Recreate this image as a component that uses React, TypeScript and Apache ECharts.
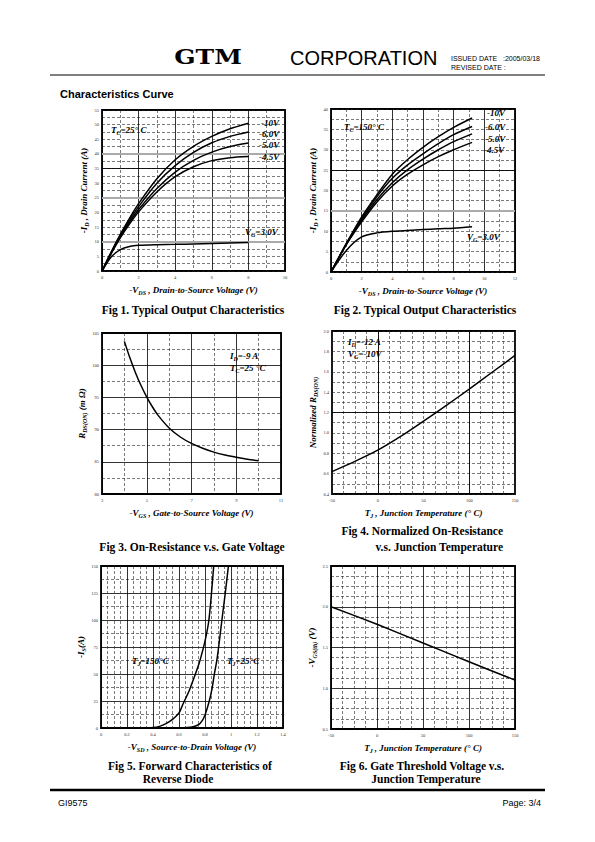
import React, { useEffect, useRef } from "react";
import * as echarts from "echarts";

const SERIF = "'Liberation Serif', 'Times New Roman', serif";
const SANS = "'Liberation Sans', Arial, sans-serif";

// ---------- Fig 1 : Typical output characteristics, Tc = 25 C ----------
const vds1 = [0, 0.5, 1, 1.5, 2, 3, 4, 5, 6, 7, 8];
const id1_10V = [0, 6.5, 12.5, 18, 23, 31.5, 38, 42.6, 46, 48.6, 50.5];
const id1_6V = [0, 6.3, 12.1, 17.3, 22, 30, 36, 40.5, 43.8, 46, 47.5];
const id1_5V = [0, 6.1, 11.7, 16.6, 21, 28.2, 33.8, 37.8, 40.6, 42.5, 43.7];
const id1_45V = [0, 5.9, 11.3, 16, 20.2, 27, 32.2, 35.6, 37.7, 38.7, 39.1];
const id1_3V = [0, 4.8, 7.3, 8.4, 8.8, 9.0, 9.1, 9.25, 9.4, 9.55, 9.7];

// ---------- Fig 2 : Typical output characteristics, Tc = 150 C ----------
const vds2 = [0, 1, 2, 3, 4, 5, 6, 7, 8, 9.2];
const id2_10V = [0, 7, 13.5, 19, 24, 27.6, 30.6, 33.2, 35.5, 37.8];
const id2_6V = [0, 6.9, 13.1, 18.5, 23, 26.3, 29, 31.5, 33.7, 35.7];
const id2_5V = [0, 6.8, 12.7, 17.8, 21.9, 25.1, 27.7, 30, 32, 33.9];
const id2_45V = [0, 6.7, 12.3, 17.2, 21.1, 24, 26.3, 28.3, 30, 31.8];
const id2_3V = [0, 5.3, 8.6, 9.6, 10, 10.2, 10.4, 10.6, 10.75, 11.1];

// ---------- Fig 3 : On-resistance vs gate voltage ----------
const vgs3 = [4, 4.25, 4.5, 4.75, 5, 5.25, 5.5, 6, 6.5, 7, 7.5, 8, 8.5, 9, 9.5, 10];
const rds3 = [103.7, 101.1, 98.8, 96.8, 95.05, 93.55, 92.25, 90.25, 88.85, 87.85, 87.1, 86.5, 86.05, 85.7, 85.4, 85.15];

// ---------- Fig 4 : Normalized on-resistance vs junction temperature ----------
const tj4 = [-50, -25, 0, 25, 50, 75, 100, 125, 150];
const rn4 = [0.62, 0.72, 0.83, 0.965, 1.115, 1.27, 1.43, 1.595, 1.76];

// ---------- Fig 5 : Forward characteristics of reverse diode ----------
const vsd5_150 = [0.3, 0.4, 0.45, 0.5, 0.55, 0.6, 0.63, 0.68, 0.72, 0.755, 0.785, 0.81, 0.83, 0.85, 0.867];
const is5_150 = [0, 0.5, 1.5, 4, 8, 14, 22, 35, 48, 60, 73, 86, 100, 125, 150];
const vsd5_25 = [0.6, 0.7, 0.75, 0.78, 0.8, 0.833, 0.855, 0.872, 0.89, 0.905, 0.93, 0.956, 0.98];
const is5_25 = [0, 1, 3, 7, 12, 25, 37, 50, 62, 75, 100, 125, 150];

// ---------- Fig 6 : Gate threshold voltage vs junction temperature ----------
const tj6 = [-50, 0, 50, 100, 150];
const vth6 = [2.0, 1.785, 1.555, 1.325, 1.1];

const rich = {
  n: { fontFamily: SERIF, fontStyle: "italic", fontWeight: "bold", fontSize: 9, color: "#000" },
  s: { fontFamily: SERIF, fontStyle: "italic", fontWeight: "bold", fontSize: 6, color: "#000", lineHeight: 12, verticalAlign: "bottom" },
};

const solid = { show: true, lineStyle: { color: "#000", width: 0.8, type: "solid" as const } };
const dashed = { show: true, lineStyle: { color: "#222", width: 0.6, type: [3, 2] } };

function xAx(gi: number, min: number, max: number, interval: number, minorN: number, name: string, majorSolid: boolean, fmt?: (v: number) => string) {
  return {
    type: "value", gridIndex: gi, min, max, interval,
    name, nameLocation: "middle", nameGap: 13,
    nameTextStyle: { rich, fontFamily: SERIF, fontStyle: "italic", fontWeight: "bold", fontSize: 9 },
    axisLine: { show: false }, axisTick: { show: false },
    minorTick: { show: false, splitNumber: minorN },
    splitLine: majorSolid ? solid : dashed,
    minorSplitLine: dashed,
    axisLabel: { fontFamily: SERIF, fontSize: 4.5, color: "#333", margin: 4, formatter: fmt },
  };
}
function yAx(gi: number, min: number, max: number, interval: number, minorN: number, name: string, majorSolid: boolean, gap: number, fmt?: (v: number) => string) {
  return {
    type: "value", gridIndex: gi, min, max, interval,
    name, nameLocation: "middle", nameGap: gap, nameRotate: 90,
    nameTextStyle: { rich, fontFamily: SERIF, fontStyle: "italic", fontWeight: "bold", fontSize: 9 },
    axisLine: { show: false }, axisTick: { show: false },
    minorTick: { show: false, splitNumber: minorN },
    splitLine: majorSolid ? solid : dashed,
    minorSplitLine: dashed,
    axisLabel: { fontFamily: SERIF, fontSize: 4.5, color: "#333", margin: 3, formatter: fmt },
  };
}

function zip(xs: number[], ys: number[]) {
  return xs.map((x, i) => [x, ys[i]]);
}
function line(name: string, gi: number, xs: number[], ys: number[], markLines?: any[]) {
  const s: any = {
    type: "line", name, xAxisIndex: gi, yAxisIndex: gi,
    data: zip(xs, ys), showSymbol: false, smooth: 0.25,
    lineStyle: { color: "#000", width: 1.5 }, z: 5,
  };
  if (markLines) {
    s.markLine = { silent: true, symbol: ["none", "none"], label: { show: false }, data: markLines, z: 3 };
  }
  return s;
}
const solidML = { color: "#000", width: 0.9, type: "solid" };
const grayML = { color: "#aaa", width: 2.2, type: "solid" };

const f1 = (v: number) => v.toFixed(1);

function txt(x: number, y: number, text: string, size = 9, align = "left") {
  return {
    type: "text", x, y, z: 100,
    style: { text, rich, fontFamily: SERIF, fontStyle: "italic", fontWeight: "bold", fontSize: size, fill: "#000", textAlign: align, textVerticalAlign: "middle" },
  };
}
function caption(x: number, y: number, text: string, align = "center") {
  return {
    type: "text", x, y, z: 100,
    style: { text, fontFamily: SERIF, fontWeight: "bold", fontSize: 11.5, fill: "#000", textAlign: align, textVerticalAlign: "middle" },
  };
}
function plain(x: number, y: number, text: string, font: any, align = "left") {
  return {
    type: "text", x, y, z: 100,
    style: { text, fill: "#000", textAlign: align, textVerticalAlign: "middle", ...font },
  };
}

export default function App() {
  const ref = useRef<HTMLDivElement>(null);
  useEffect(() => {
    if (!ref.current) return;
    const chart = echarts.init(ref.current, undefined, { renderer: "svg" });
    const gridBase = { show: true, borderColor: "#000", borderWidth: 1.8, backgroundColor: "transparent", containLabel: false };
    const option: any = {
      animation: false,
      backgroundColor: "#fff",
      grid: [
        { ...gridBase, left: 102, top: 110, width: 183, height: 161 },
        { ...gridBase, left: 331, top: 109, width: 184, height: 163 },
        { ...gridBase, left: 102, top: 333, width: 179, height: 161 },
        { ...gridBase, left: 332, top: 331, width: 183, height: 163 },
        { ...gridBase, left: 101, top: 566, width: 182, height: 162 },
        { ...gridBase, left: 331, top: 566, width: 184, height: 163 },
      ],
      xAxis: [
        xAx(0, 0, 10, 2, 2, "{n|-V}{s|DS}{n| , Drain-to-Source Voltage (V)}", true),
        xAx(1, 0, 12, 2, 2, "{n|-V}{s|DS}{n| , Drain-to-Source Voltage (V)}", true),
        xAx(2, 3, 11, 2, 2, "{n|-V}{s|GS}{n| , Gate-to-Source Voltage (V)}", true),
        xAx(3, -50, 150, 50, 4, "{n|T}{s|J}{n| , Junction Temperature (° C)}", false),
        xAx(4, 0, 1.4, 0.2, 4, "{n|-V}{s|SD}{n| , Source-to-Drain Voltage (V)}", true),
        xAx(5, -50, 150, 50, 4, "{n|T}{s|J}{n| , Junction Temperature (° C)}", true),
      ],
      yAxis: [
        yAx(0, 0, 55, 5, 2, "{n|-I}{s|D}{n| , Drain Current (A)}", false, 12),
        yAx(1, 0, 40, 5, 2, "{n|-I}{s|D}{n| , Drain Current (A)}", false, 12),
        yAx(2, 80, 105, 5, 2, "{n|R}{s|DS(ON)}{n| (m Ω)}", true, 13),
        yAx(3, 0.4, 2.0, 0.2, 2, "{n|Normalized R}{s|DS(ON)}", false, 11, f1),
        yAx(4, 0, 150, 25, 2, "{n|-I}{s|S}{n|(A)}", true, 13),
        yAx(5, 0.5, 2.5, 0.5, 4, "{n|-V}{s|GS(th)}{n| (V)}", true, 11, f1),
      ],
      series: [
        line("-10V", 0, vds1, id1_10V, [{ yAxis: 35, lineStyle: solidML }, { yAxis: 10, lineStyle: grayML }, { yAxis: 25, lineStyle: grayML }, { yAxis: 40, lineStyle: grayML }]),
        line("-6.0V", 0, vds1, id1_6V),
        line("-5.0V", 0, vds1, id1_5V),
        line("-4.5V", 0, vds1, id1_45V),
        line("-3.0V", 0, vds1, id1_3V),
        line("-10V", 1, vds2, id2_10V, [{ yAxis: 25, lineStyle: solidML }, { yAxis: 15, lineStyle: grayML }]),
        line("-6.0V", 1, vds2, id2_6V),
        line("-5.0V", 1, vds2, id2_5V),
        line("-4.5V", 1, vds2, id2_45V),
        line("-3.0V", 1, vds2, id2_3V),
        line("RDS(ON)", 2, vgs3, rds3),
        line("Normalized RDS(ON)", 3, tj4, rn4, [{ yAxis: 1.2, lineStyle: solidML }, { xAxis: 0, lineStyle: solidML }, { xAxis: 100, lineStyle: solidML }]),
        line("TJ=150C", 4, vsd5_150, is5_150),
        line("TJ=25C", 4, vsd5_25, is5_25),
        line("VGS(th)", 5, tj6, vth6),
      ],
      graphic: [
        // header
        { type: "text", x: 208, y: 57, z: 100, scaleX: 1.25, style: { text: "GTM", fontFamily: "'DejaVu Serif', serif", fontWeight: "bold", fontSize: 20, fill: "#000", textAlign: "center", textVerticalAlign: "middle" } },
        plain(290, 58, "CORPORATION", { fontFamily: SANS, fontSize: 20 }),
        plain(451, 58, "ISSUED DATE   :2005/03/18", { fontFamily: SANS, fontSize: 7 }),
        plain(451, 67, "REVISED DATE :", { fontFamily: SANS, fontSize: 7 }),
        { type: "line", z: 100, shape: { x1: 50, y1: 75, x2: 545, y2: 75 }, style: { stroke: "#000", lineWidth: 1 } },
        plain(60, 94, "Characteristics Curve", { fontFamily: SANS, fontSize: 11, fontWeight: "bold" }),
        // fig 1 annotations
        txt(111, 130, "{n|T}{s|C}{n|=25° C}"),
        txt(261, 123, "-10V"),
        txt(259, 134, "-6.0V"),
        txt(259, 145, "-5.0V"),
        txt(259, 157, "-4.5V"),
        txt(245, 232, "{n|V}{s|G}{n|=3.0V}"),
        // fig 2 annotations
        txt(344, 127, "{n|T}{s|C}{n|=150° C}"),
        txt(487, 113, "-10V"),
        txt(485, 127, "-6.0V"),
        txt(485, 139, "-5.0V"),
        txt(484, 150, "-4.5V"),
        txt(467, 237, "{n|V}{s|G}{n|=3.0V}"),
        // fig 3 annotations
        txt(230, 356, "{n|I}{s|D}{n|=-9 A}"),
        txt(230, 368, "{n|T}{s|C}{n|=25 °C}"),
        // fig 4 annotations
        txt(348, 342, "{n|I}{s|D}{n|=-12 A}"),
        txt(348, 354, "{n|V}{s|G}{n|=-10V}"),
        // fig 5 annotations
        txt(132, 661, "{n|T}{s|J}{n|=150°C}"),
        txt(227, 661, "{n|T}{s|J}{n|=25°C}"),
        // captions
        caption(193, 310, "Fig 1. Typical Output Characteristics"),
        caption(425, 310, "Fig 2. Typical Output Characteristics"),
        caption(192, 547, "Fig 3. On-Resistance v.s. Gate Voltage"),
        caption(503, 531, "Fig 4. Normalized On-Resistance", "right"),
        caption(503, 547, "v.s. Junction Temperature", "right"),
        caption(190, 766, "Fig 5. Forward Characteristics of"),
        caption(178, 779, "Reverse Diode"),
        caption(422, 766, "Fig 6. Gate Threshold Voltage v.s."),
        caption(426, 779, "Junction Temperature"),
        // footer
        { type: "line", z: 100, shape: { x1: 50, y1: 790, x2: 545, y2: 790 }, style: { stroke: "#000", lineWidth: 2.5 } },
        plain(58, 803, "GI9575", { fontFamily: SANS, fontSize: 9 }),
        plain(541, 803, "Page: 3/4", { fontFamily: SANS, fontSize: 9 }, "right"),
      ],
    };
    chart.setOption(option);
    return () => chart.dispose();
  }, []);
  return <div ref={ref} style={{ position: "absolute", left: 0, top: 0, width: 595, height: 842 }} />;
}
